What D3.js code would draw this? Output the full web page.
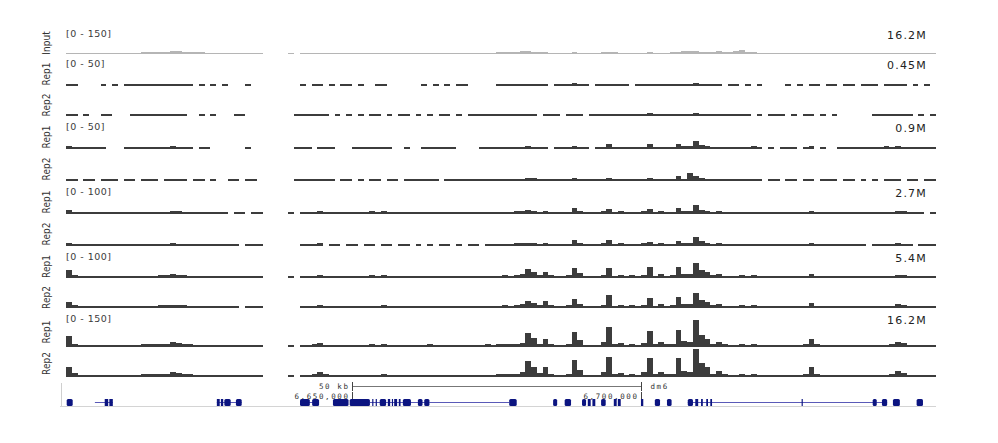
<!DOCTYPE html>
<html lang="en">

<head>
    <meta charset="UTF-8">
    <title>Coverage tracks</title>
    <script src="https://d3js.org/d3.v7.min.js"></script>
    <style>
        html,
        body {
            margin: 0;
            padding: 0;
            overflow: hidden;
            background: #fff;
        }

        svg {
            display: block;
        }

        .name {
            font-family: "Liberation Sans Narrow", "DejaVu Sans Condensed", sans-serif;
            font-size: 10px;
            fill: #333;
        }

        .range {
            font-family: "DejaVu Sans", sans-serif;
            font-size: 9.5px;
            letter-spacing: 0.5px;
            fill: #3a3a3a;
        }

        .depth {
            font-family: "DejaVu Sans", sans-serif;
            font-size: 11px;
            letter-spacing: 1.2px;
            fill: #222;
        }

        .ruler {
            font-family: "DejaVu Sans Mono", monospace;
            font-size: 7.5px;
            letter-spacing: 1.6px;
            fill: #333;
        }
    </style>
</head>

<body>
    <svg id="chart" width="998" height="443"></svg>

    <script>
        // two windows in kb: left is a separate locus, right is the dm6 region around 6.65-6.75 Mb
        const left_domain = [0, 34];
        const right_domain = [6638.75, 6751.4];
        const right_bin_start = 6639; // 1 kb bins

        const track_names = ["Input", "Rep1", "Rep2", "Rep1", "Rep2", "Rep1", "Rep2", "Rep1", "Rep2", "Rep1", "Rep2"];
        const track_group = [0, 1, 1, 2, 2, 3, 3, 4, 4, 5, 5];
        const depth_labels = ["16.2M", "0.45M", "0.9M", "2.7M", "5.4M", "16.2M"];
        const range_max = [150, 50, 50, 100, 100, 150];

        // coverage per 1 kb bin, left window (34 bins)
        const input_left = [5,4,4,4,4,4,4,4,4,4, 4,4,4,6,7,8,9,10,15,12, 9,8,7,6,4,4,4,4,4,4, 4,4,4,4];
        const d045_rep1_left = [3,2,0,0,0,0,2,0,2,0, 2,2,2,2,2,2,2,3,2,2, 2,2,0,2,0,2,0,2,0,0, 0,2,0,0];
        const d045_rep2_left = [3,2,0,2,0,0,2,2,0,0, 0,2,2,2,3,3,2,2,3,3, 2,0,0,2,0,2,0,0,0,2, 2,0,0,0];
        const d09_rep1_left = [4,3,3,2,2,2,2,0,0,0, 2,2,3,3,3,3,3,3,4,3, 2,2,0,2,2,0,0,0,0,0, 0,2,0,0];
        const d09_rep2_left = [3,2,0,2,2,0,2,2,2,0, 2,2,0,2,2,2,0,2,3,2, 2,0,2,2,0,2,0,0,2,2, 0,2,2,0];
        const d27_rep1_left = [12,6,5,5,5,5,5,5,5,5, 5,5,5,5,5,5,5,6,8,7, 5,5,5,5,5,5,5,5,0,5, 5,0,5,5];
        const d27_rep2_left = [10,5,5,5,5,5,5,5,5,5, 5,5,5,5,5,5,5,6,7,6, 5,5,5,5,5,5,5,5,5,5, 0,5,5,5];
        const d54_rep1_left = [25,10,6,5,5,5,5,5,5,5, 5,5,5,5,6,6,7,8,12,10, 7,6,5,5,5,5,5,5,5,5, 5,5,5,5];
        const d54_rep2_left = [20,8,6,5,5,5,5,5,5,5, 5,5,5,5,6,6,7,8,10,9, 7,6,5,5,5,5,5,5,5,5, 0,5,5,5];
        const d162_rep1_left = [55,15,10,8,8,8,8,8,9,9, 9,10,10,11,12,12,13,14,25,18, 14,12,10,9,8,8,8,8,8,8, 8,8,8,8];
        const d162_rep2_left = [50,18,10,8,8,8,9,8,9,10, 9,10,10,11,12,12,13,14,25,18, 14,12,10,9,8,8,8,8,8,8, 8,8,8,8];

        // coverage per 1 kb bin, right window (112 bins from 6639 kb)
        const input_right = [
            3,0,4,4,4,4,4,4,4,4, 4,4,4,4,5,4,4,4,4,4, 4,4,4,4,4,4,4,4,4,4, 4,4,4,4,4,5,8,10,9,10,
            11,12,10,8,7,5,5,5,5,6, 5,5,5,5,7,8,7,5,5,5, 5,5,6,5,5,5,7,10,12,11, 14,10,8,8,14,8,9,12,18,10,
            6,4,4,4,4,4,4,3,4,4, 4,4,4,3,4,4,4,4,3,4, 4,4,4,4,4,4,3,4,4,4, 4,3];
        const d045_rep1_right = [
            0,0,2,0,2,2,0,2,0,2, 2,0,2,0,0,2,2,0,0,0, 0,0,0,2,0,2,0,2,0,2, 2,0,0,0,0,0,2,2,3,2,
            2,3,2,2,2,0,2,2,2,4, 2,2,0,2,2,3,2,2,2,0, 2,2,3,2,2,2,2,3,3,3, 5,3,2,2,2,0,2,2,0,2,
            0,2,0,0,0,0,2,0,2,0, 2,2,0,2,2,0,2,2,0,2, 2,2,0,2,2,3,2,0,2,0, 2,0];
        const d045_rep2_right = [
            0,2,2,3,2,3,2,0,2,0, 2,0,2,0,2,2,0,2,0,2, 2,0,2,0,2,0,2,2,0,2, 0,2,2,2,2,3,2,3,3,2,
            2,3,2,0,2,2,2,0,2,3, 2,0,2,2,2,2,2,2,2,2, 3,3,5,2,2,2,2,3,3,3, 5,3,3,2,2,2,2,3,2,2,
            0,2,0,2,2,2,0,2,0,2, 2,0,2,0,2,0,0,0,0,0, 0,2,2,3,2,3,2,2,0,2, 0,2];
        const d09_rep1_right = [
            0,2,2,3,0,3,2,2,0,0, 0,2,3,2,2,2,3,2,0,0, 2,0,0,2,2,2,2,2,2,0, 0,0,0,2,2,2,3,2,3,3,
            3,4,3,3,3,0,2,2,3,5, 3,2,0,2,3,8,2,2,3,2, 3,3,8,3,3,3,3,8,4,4, 12,6,4,3,3,3,2,2,3,2,
            4,2,0,2,0,2,2,3,0,2, 4,0,2,0,0,2,2,2,2,3, 2,3,3,4,3,4,3,2,2,3, 2,2];
        const d09_rep2_right = [
            0,2,2,2,2,3,2,2,0,2, 2,0,2,0,2,2,0,2,2,0, 2,2,2,2,2,2,0,2,2,2, 2,2,2,2,2,3,2,3,3,3,
            3,5,4,3,3,2,2,2,3,5, 3,2,2,2,3,5,3,2,2,2, 2,3,4,2,3,3,3,7,3,12, 8,4,3,3,3,2,2,2,2,2,
            2,2,0,2,2,0,2,3,0,2, 2,0,2,2,2,0,2,2,0,2, 0,2,0,2,3,2,0,2,2,0, 2,2];
        const d27_rep1_right = [
            4,0,5,5,5,8,5,5,5,5, 5,5,5,5,7,5,7,5,5,5, 5,5,5,5,5,5,5,5,5,5, 5,5,5,5,5,5,6,6,6,7,
            8,11,9,6,9,5,5,5,6,17, 8,5,5,5,7,14,5,7,5,6, 5,7,15,5,8,5,6,17,8,8, 27,12,9,5,8,5,5,5,6,5,
            6,5,5,5,5,5,5,5,5,5, 10,5,5,5,5,5,5,5,5,5, 5,5,5,5,5,10,7,5,5,5, 0,5];
        const d27_rep2_right = [
            0,0,5,5,5,7,0,5,5,0, 5,5,0,5,5,0,6,5,0,5, 5,0,5,0,5,0,5,5,0,5, 0,5,5,0,5,5,5,6,6,7,
            8,10,8,6,10,5,5,5,6,17, 8,5,5,5,7,17,5,7,5,6, 5,7,12,5,8,5,6,15,8,8, 30,14,10,5,8,5,5,5,6,5,
            6,5,5,5,5,5,5,5,5,5, 10,5,5,5,5,5,5,5,5,5, 0,5,5,5,5,8,6,5,0,5, 5,5];
        const d54_rep1_right = [
            4,0,5,5,6,10,6,5,5,5, 5,5,5,5,7,5,7,5,5,5, 5,5,5,5,6,5,5,5,5,5, 5,5,5,5,6,5,6,7,6,8,
            12,27,18,8,20,7,5,6,8,33, 15,5,5,5,10,33,6,10,5,8, 5,10,35,6,12,6,7,35,12,12, 50,25,18,7,12,6,5,5,7,5,
            7,5,5,5,5,5,5,5,5,6, 13,6,5,5,5,5,5,5,5,5, 5,5,5,5,6,10,8,5,5,5, 5,5];
        const d54_rep2_right = [
            0,0,5,5,6,10,6,5,5,5, 5,5,5,5,6,5,7,5,5,5, 5,5,5,5,6,5,5,5,5,5, 5,5,5,5,6,5,6,7,6,8,
            12,23,15,8,23,7,5,6,8,27, 13,5,5,5,10,42,6,10,5,8, 5,10,33,6,12,6,7,35,12,12, 50,25,18,7,13,6,5,5,7,5,
            7,5,5,5,5,5,5,5,5,6, 15,6,5,5,5,5,5,5,5,5, 5,5,5,5,6,12,8,5,5,5, 5,5];
        const d162_rep1_right = [
            6,0,8,8,12,20,10,8,7,8, 8,7,8,8,12,8,11,8,7,8, 8,8,7,8,11,8,8,7,8,8, 8,8,7,8,11,8,12,13,12,14,
            20,70,45,15,40,12,9,10,15,75, 35,10,9,10,22,100,12,16,10,15, 10,20,78,12,22,12,15,85,30,25, 135,60,40,15,25,12,10,10,15,9,
            15,9,8,8,9,8,8,8,9,12, 38,12,8,8,8,9,8,8,8,8, 8,9,8,10,12,25,18,9,8,8, 8,8];
        const d162_rep2_right = [
            6,0,8,9,14,25,12,8,8,8, 8,8,8,8,9,8,14,8,8,8, 8,8,8,8,9,8,8,8,8,8, 8,8,8,8,9,9,12,14,12,15,
            22,78,50,18,50,15,10,10,15,85, 35,10,10,10,25,100,12,20,10,15, 10,22,95,12,25,12,15,95,30,25, 140,70,50,15,30,12,10,10,15,9,
            15,9,8,8,8,8,8,8,9,12, 48,12,8,8,8,8,8,8,8,8, 8,8,8,10,12,30,20,9,8,8, 8,8];

        const left_tracks = [input_left, d045_rep1_left, d045_rep2_left, d09_rep1_left, d09_rep2_left,
            d27_rep1_left, d27_rep2_left, d54_rep1_left, d54_rep2_left, d162_rep1_left, d162_rep2_left];
        const right_tracks = [input_right, d045_rep1_right, d045_rep2_right, d09_rep1_right, d09_rep2_right,
            d27_rep1_right, d27_rep2_right, d54_rep1_right, d54_rep2_right, d162_rep1_right, d162_rep2_right];

        // gene models (kb)
        const exons_left = [[0.12, 1.16], [6.7, 7.3], [7.5, 8.1], [26.1, 26.6], [26.8, 27.2], [27.4, 28.5], [29.4, 30.4]];
        const introns_left = [[5.0, 8.1], [26.1, 30.4]];
        const exons_right = [
            [6641.0, 6642.7], [6643.1, 6644.3], [6646.7, 6649.4], [6649.6, 6653.1], [6653.5, 6653.7], [6654.1, 6654.3],
            [6654.8, 6655.9], [6656.2, 6656.6], [6656.9, 6657.1], [6657.3, 6657.8], [6658.1, 6658.4], [6658.8, 6660.2],
            [6661.4, 6662.2], [6662.5, 6663.4], [6677.2, 6678.5], [6684.8, 6685.5], [6686.8, 6687.9],
            [6689.8, 6690.5], [6690.8, 6691.3], [6691.6, 6692.1], [6693.1, 6693.9], [6695.3, 6695.8], [6696.0, 6696.5],
            [6700.0, 6700.4], [6702.4, 6703.3], [6704.5, 6705.3], [6708.1, 6709.0], [6709.4, 6709.9], [6710.4, 6710.7],
            [6711.3, 6711.6], [6712.0, 6712.3], [6727.8, 6728.0], [6740.1, 6740.8], [6741.7, 6742.6], [6743.6, 6744.8],
            [6747.7, 6748.8]];
        const introns_right = [[6641.0, 6644.3], [6653.1, 6663.4], [6663.4, 6677.2], [6708.1, 6740.8], [6740.8, 6742.6]];

        const ruler_ticks = [6650, 6700];
        const ruler_span_label = "50 kb";
        const genome_label = "dm6";

        // layout
        const track_top = [28, 58, 90, 121, 153, 186, 218, 251, 283, 313, 346];
        const track_bottom = [54, 86, 116, 149, 181, 214, 246, 278, 308, 347, 377];
        const bar_height = 30;
        const gene_y = 402;

        const svg = d3.select("#chart");
        const x_left = d3.scaleLinear().domain(left_domain).range([66, 262.5]);
        const x_right = d3.scaleLinear().domain(right_domain).range([287, 938]);
        const fmt = d3.format(",");

        track_names.forEach((name, t) => {
            const g = svg.append("g");
            const bottom = track_bottom[t];
            const y = d3.scaleLinear()
                .domain([0, range_max[track_group[t]]])
                .range([bottom, bottom - bar_height]);
            const fill = t === 0 ? "#b5b5b5" : "#3c3c3c";

            [[left_tracks[t], x_left, 0], [right_tracks[t], x_right, right_bin_start]].forEach(([vals, x, start]) => {
                const top_of = v => Math.min(Math.floor(y(v)), bottom - 1);
                g.append("g").selectAll("rect")
                    .data(vals.map((v, i) => ({ v, b: start + i })).filter(d => d.v > 0))
                    .join("rect")
                    .attr("x", d => Math.round(x(d.b)))
                    .attr("width", d => Math.round(x(d.b + 1)) - Math.round(x(d.b)))
                    .attr("y", d => top_of(d.v))
                    .attr("height", d => bottom - top_of(d.v))
                    .attr("fill", fill)
                    .attr("shape-rendering", "crispEdges");
            });

            // rotated track name
            g.append("text")
                .attr("class", "name")
                .attr("transform", `translate(46,${(track_top[t] + bottom) / 2 + 2}) rotate(-90)`)
                .attr("text-anchor", "middle")
                .attr("dy", "0.35em")
                .text(name);

            // range + depth labels on the first track of each group
            if (t === 0 || t % 2 === 1) {
                const grp = track_group[t];
                g.append("text")
                    .attr("class", "range")
                    .attr("x", 66)
                    .attr("y", track_top[t] + 6)
                    .attr("dy", "0.35em")
                    .text(`[0 - ${range_max[grp]}]`);
                g.append("text")
                    .attr("class", "depth")
                    .attr("x", 927)
                    .attr("y", track_top[t] + 7)
                    .attr("dy", "0.35em")
                    .attr("text-anchor", "end")
                    .text(depth_labels[grp]);
            }
        });

        // ruler
        const ruler = svg.append("g").attr("stroke", "#444").attr("shape-rendering", "crispEdges");
        const rx0 = Math.round(x_right(ruler_ticks[0])) + 0.5;
        const rx1 = Math.round(x_right(ruler_ticks[1])) + 0.5;
        ruler.append("line").attr("x1", rx0).attr("x2", rx1).attr("y1", 386.5).attr("y2", 386.5).attr("stroke", "#777");
        ruler_ticks.forEach(v => {
            const xx = Math.round(x_right(v)) + 0.5;
            ruler.append("line").attr("x1", xx).attr("x2", xx).attr("y1", 382).attr("y2", 391);
            ruler.append("line").attr("x1", xx).attr("x2", xx).attr("y1", 392).attr("y2", 399);
            svg.append("text").attr("class", "ruler")
                .attr("x", xx - 3).attr("y", 396).attr("dy", "0.35em")
                .attr("text-anchor", "end")
                .text(fmt(v * 1000));
        });
        svg.append("text").attr("class", "ruler")
            .attr("x", rx0 - 3).attr("y", 386).attr("dy", "0.35em")
            .attr("text-anchor", "end")
            .text(ruler_span_label);
        svg.append("text").attr("class", "ruler")
            .attr("x", rx1 + 9).attr("y", 386).attr("dy", "0.35em")
            .text(genome_label);

        // gene track
        const genes = svg.append("g");
        genes.append("line")
            .attr("x1", 60).attr("x2", 936).attr("y1", 406.5).attr("y2", 406.5)
            .attr("stroke", "#d4d4d4");
        genes.append("line")
            .attr("x1", 61.5).attr("x2", 61.5).attr("y1", 383).attr("y2", 406)
            .attr("stroke", "#cfcfcf");

        [[introns_left, exons_left, x_left], [introns_right, exons_right, x_right]].forEach(([introns, exons, x]) => {
            genes.append("g").selectAll("line")
                .data(introns)
                .join("line")
                .attr("x1", d => x(d[0])).attr("x2", d => x(d[1]))
                .attr("y1", gene_y + 0.5).attr("y2", gene_y + 0.5)
                .attr("stroke", "#5a5ab8");
            genes.append("g").selectAll("rect")
                .data(exons)
                .join("rect")
                .attr("x", d => x(d[0]))
                .attr("width", d => Math.max(1, x(d[1]) - x(d[0])))
                .attr("y", gene_y - 3)
                .attr("height", 7)
                .attr("rx", d => x(d[1]) - x(d[0]) > 4 ? 1.5 : 0)
                .attr("fill", "#0b1480");
        });
    </script>
</body>

</html>
